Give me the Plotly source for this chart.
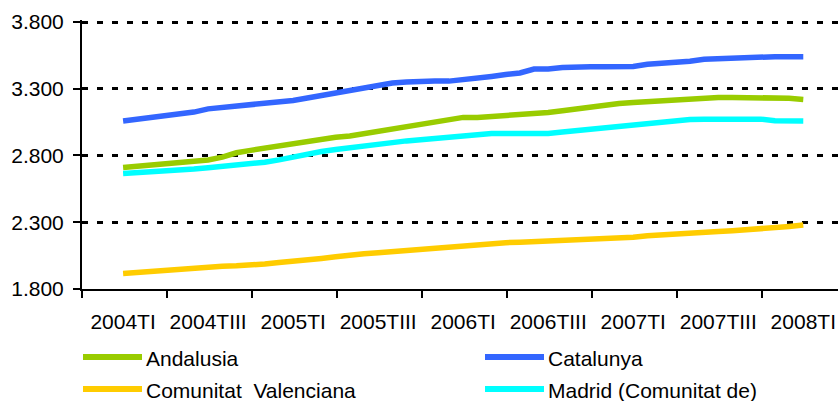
import plotly.graph_objects as go

# ---------------- data (monthly, Jan 2004 .. Jan 2008) ----------------
months = list(range(49))

andalusia = [2710, 2720, 2729, 2739, 2748, 2758, 2766, 2787, 2820, 2838,
             2855, 2872, 2888, 2909, 2926, 2936, 2946, 2964, 2984, 2998,
             3014, 3033, 3052, 3071, 3085, 3085, 3092, 3102, 3102, 3118,
             3121, 3135, 3150, 3166, 3174, 3190, 3197, 3205, 3212, 3220,
             3220, 3228, 3235, 3235, 3235, 3235, 3235, 3228, 3220]

catalunya = [3058, 3071, 3083, 3096, 3108, 3125, 3149, 3160, 3169, 3178,
             3187, 3196, 3212, 3231, 3250, 3269, 3288, 3307, 3326, 3343,
             3350, 3357, 3357, 3357, 3372, 3378, 3392, 3406, 3418, 3447,
             3447, 3459, 3465, 3465, 3465, 3465, 3467, 3483, 3490, 3496,
             3506, 3521, 3525, 3537, 3540, 3540, 3540, 3540, 3540]

valenciana = [1915, 1924, 1934, 1943, 1950, 1957, 1964, 1969, 1973, 1977,
              1986, 1998, 2005, 2016, 2028, 2040, 2055, 2063, 2071, 2080,
              2088, 2096, 2102, 2106, 2115, 2127, 2138, 2146, 2150, 2154,
              2158, 2163, 2168, 2173, 2178, 2183, 2187, 2198, 2206, 2214,
              2218, 2224, 2229, 2235, 2241, 2249, 2259, 2268, 2278]

madrid = [2665, 2670, 2675, 2680, 2690, 2698, 2707, 2716, 2725, 2737,
          2749, 2767, 2790, 2809, 2829, 2845, 2860, 2869, 2880, 2896,
          2909, 2919, 2930, 2941, 2950, 2965, 2965, 2965, 2965, 2965,
          2965, 2976, 2987, 2998, 3007, 3017, 3028, 3037, 3048, 3059,
          3070, 3072, 3072, 3072, 3072, 3072, 3060, 3058, 3058]

x_tick_vals = [0, 6, 12, 18, 24, 30, 36, 42, 48]
x_tick_labels = ["2004TI", "2004TIII", "2005TI", "2005TIII", "2006TI",
                 "2006TIII", "2007TI", "2007TIII", "2008TI"]

y_tick_vals = [1800, 2300, 2800, 3300, 3800]
y_tick_labels = ["1.800", "2.300", "2.800", "3.300", "3.800"]

series_names = ["Andalusia", "Catalunya", "Comunitat  Valenciana", "Madrid (Comunitat de)"]
series_values = [andalusia, catalunya, valenciana, madrid]
series_colors = ["#99CC00", "#3366FF", "#FFCC00", "#00FFFF"]

# ---------------- figure ----------------
W, H = 838, 401
ML, MR, MT, MB = 82, 0, 20, 112
FONT = "Liberation Sans, Arial, sans-serif"
FS = 21

fig = go.Figure()
for name, vals, col in zip(series_names, series_values, series_colors):
    fig.add_trace(go.Scatter(
        x=months, y=vals, mode="lines", name=name,
        line=dict(color=col, width=5.5),
        showlegend=False, hoverinfo="skip",
    ))

# custom legend (long line samples like the original)
pw = W - ML - MR
ph = H - MT - MB

def px_to_paper_x(px):
    return (px - ML) / pw

def px_to_paper_y(py):
    return (H - MB - py) / ph

legend_pos = [(83, 357), (485, 357), (83, 389), (485, 389)]
for name, col, (lx, ly) in zip(series_names, series_colors, legend_pos):
    fig.add_shape(type="line", xref="paper", yref="paper",
                  x0=px_to_paper_x(lx), x1=px_to_paper_x(lx + 59),
                  y0=px_to_paper_y(ly), y1=px_to_paper_y(ly),
                  line=dict(color=col, width=6))
    fig.add_annotation(xref="paper", yref="paper",
                       x=px_to_paper_x(lx + 61), y=px_to_paper_y(ly + 1),
                       text=name, showarrow=False, xanchor="left", yanchor="middle",
                       font=dict(family=FONT, size=FS, color="black"))

fig.update_layout(
    width=W, height=H, autosize=False,
    margin=dict(l=ML, r=MR, t=MT, b=MB, autoexpand=False),
    paper_bgcolor="white", plot_bgcolor="white",
    font=dict(family=FONT, size=FS, color="black"),
    showlegend=False,
)

fig.update_xaxes(
    range=[-2.9, 50.45], automargin=False,
    tickmode="array", tickvals=x_tick_vals, ticktext=x_tick_labels,
    ticks="", showgrid=False, zeroline=False,
    showline=True, linecolor="black", linewidth=2,
    ticklabelstandoff=13,
    minor=dict(tickmode="linear", tick0=-2.9, dtick=6, ticks="outside",
               ticklen=7, tickwidth=2, tickcolor="black", showgrid=False),
)

fig.update_yaxes(
    range=[1799, 3815], automargin=False,
    tickmode="array", tickvals=y_tick_vals, ticktext=y_tick_labels,
    ticks="outside", ticklen=7, tickwidth=2, tickcolor="black",
    showgrid=True, gridcolor="black", gridwidth=3, griddash="6px,9px",
    zeroline=False, showline=True, linecolor="black", linewidth=2,
    ticklabelstandoff=5,
)

fig.write_html("out.html", config={"displayModeBar": False},
               post_script="document.body.style.margin='0';")
